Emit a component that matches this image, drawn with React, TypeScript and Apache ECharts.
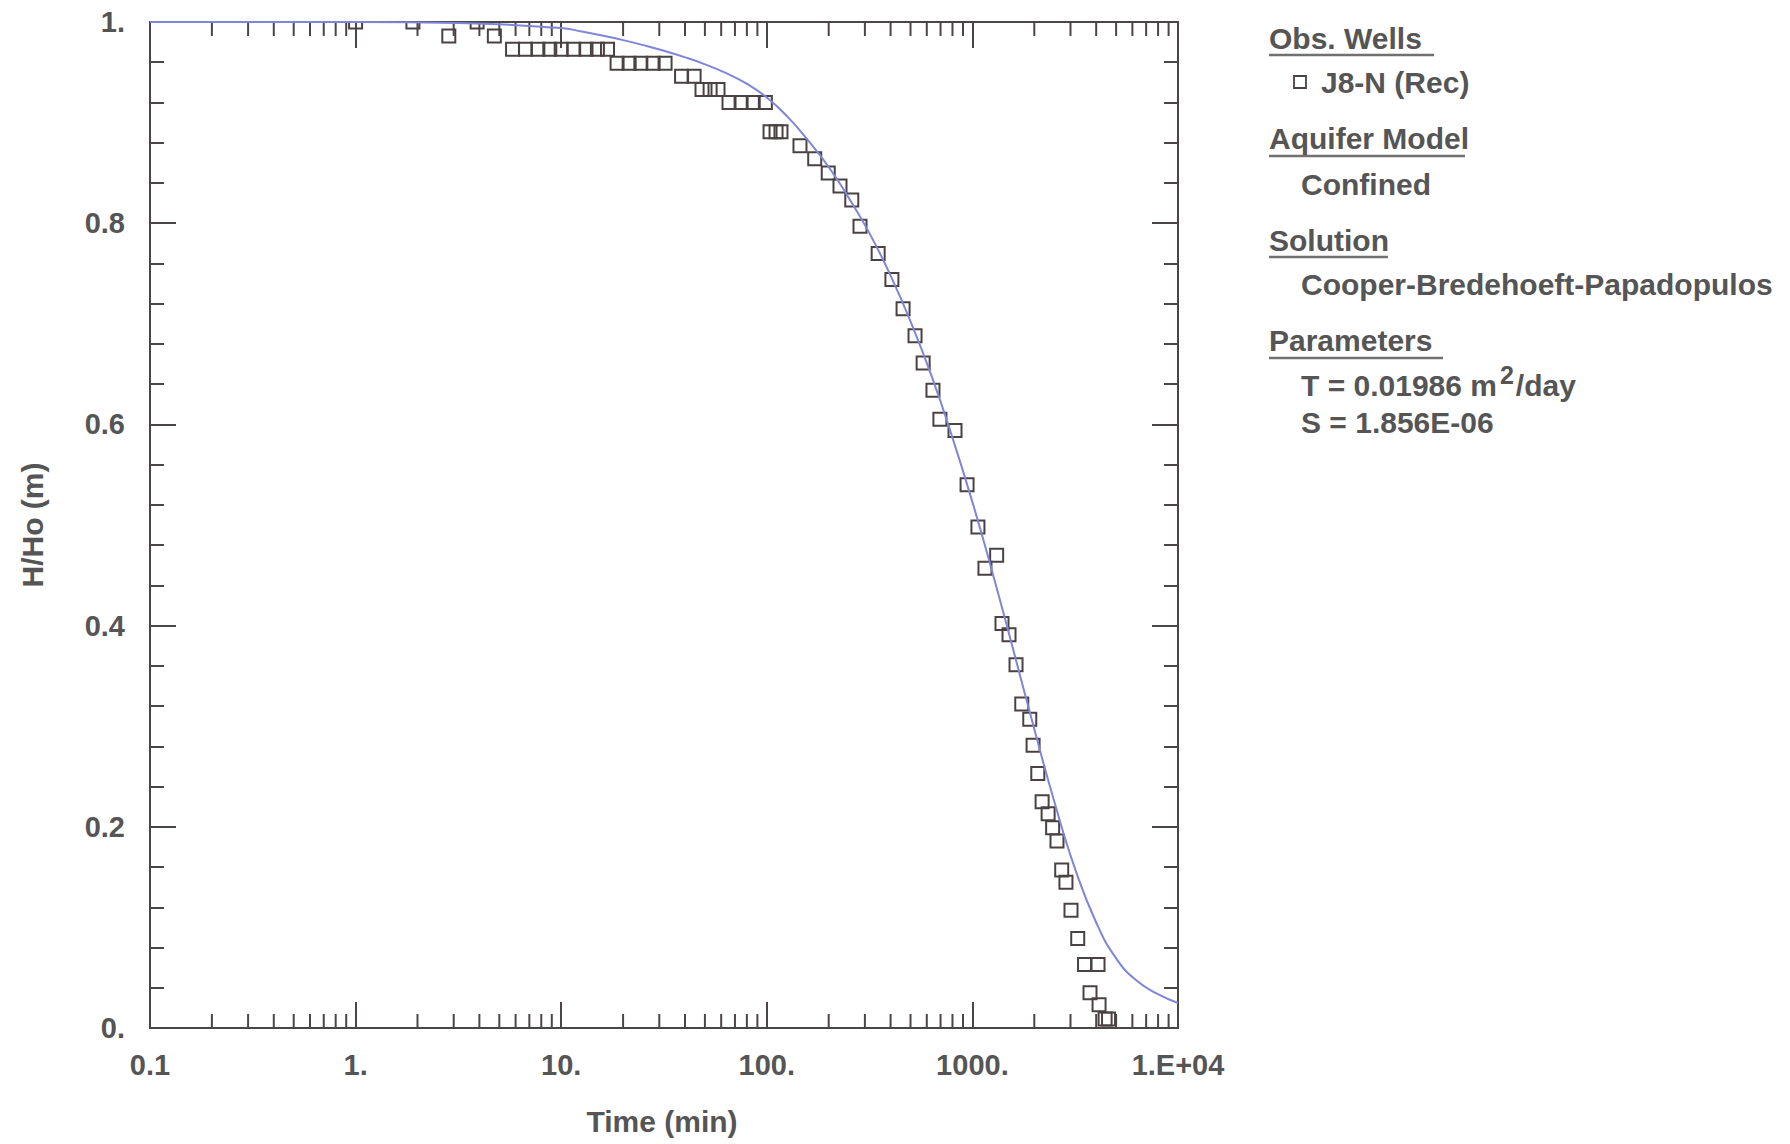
import React, { useEffect, useRef } from 'react';
import * as echarts from 'echarts';

// ---- Axis ticks / labels ----
const xTickValues = [0.1, 1, 10, 100, 1000, 10000];
const xTickLabels = ['0.1', '1.', '10.', '100.', '1000.', '1.E+04'];
const xMinorTickValues = [
  0.2, 0.3, 0.4, 0.5, 0.6, 0.7, 0.8, 0.9,
  2, 3, 4, 5, 6, 7, 8, 9,
  20, 30, 40, 50, 60, 70, 80, 90,
  200, 300, 400, 500, 600, 700, 800, 900,
  2000, 3000, 4000, 5000, 6000, 7000, 8000, 9000,
];
const yTickValues = [0, 0.2, 0.4, 0.6, 0.8, 1];
const yTickLabels = ['0.', '0.2', '0.4', '0.6', '0.8', '1.'];

// ---- Observed data: J8-N (Rec) ----
const obsTime = [
  1.0, 1.9, 2.84, 3.9, 4.73,
  5.8, 6.7, 7.7, 8.8, 10.0, 11.5, 13.2, 15.0, 16.8,
  18.7, 21.4, 24.4, 28.0, 32.0,
  38.5, 44.3,
  48.4, 53.0, 57.9,
  65.5, 75.0, 85.9, 98.4,
  103.7, 110.9, 117.2,
  145, 171, 199, 227, 259, 284, 348, 406, 460, 526, 576, 643, 695, 823,
  942, 1064, 1151, 1312, 1393, 1507, 1630, 1738, 1901, 1973, 2080, 2183, 2335,
  2456, 2579, 2719, 2851, 3017, 3253, 3511, 3733, 4083, 4131, 4420, 4594,
];
const obsHead = [
  1.0, 1.0, 0.986, 1.0, 0.986,
  0.973, 0.973, 0.973, 0.973, 0.973, 0.973, 0.973, 0.973, 0.973,
  0.959, 0.959, 0.959, 0.959, 0.959,
  0.946, 0.946,
  0.933, 0.933, 0.933,
  0.92, 0.92, 0.92, 0.92,
  0.891, 0.891, 0.891,
  0.877, 0.864, 0.85, 0.837, 0.823, 0.797, 0.77, 0.744, 0.715, 0.688, 0.661, 0.634, 0.605, 0.594,
  0.54, 0.498, 0.457, 0.47, 0.402, 0.391, 0.361, 0.322, 0.307, 0.281, 0.253, 0.225, 0.213,
  0.199, 0.186, 0.157, 0.145, 0.117, 0.089, 0.063, 0.035, 0.063, 0.023, 0.009, 0.009,
];

// ---- Fitted type curve (Cooper-Bredehoeft-Papadopulos) ----
const curveTime = [
  0.1, 1, 3.16, 10, 12.6, 15.8, 20, 25.1, 31.6, 39.8, 50.1, 63.1, 79.4,
  100, 126, 158, 200, 251, 316, 398, 501, 631, 794,
  1000, 1259, 1585, 1995, 2512, 3162, 3981, 5012, 6310, 7943, 10000,
];
const curveHead = [
  1.0, 1.0, 0.999, 0.994, 0.9905, 0.9865, 0.982, 0.977, 0.9714, 0.9651, 0.9579, 0.9494, 0.9389,
  0.9249, 0.9059, 0.8829, 0.8559, 0.8249, 0.7899, 0.7489, 0.7019, 0.6489, 0.5889,
  0.5229, 0.4509, 0.3749, 0.2979, 0.2239, 0.1579, 0.1059, 0.0689, 0.0469, 0.0339, 0.0249,
];

// ---- Legend texts ----
const legendHeadings = ['Obs. Wells', 'Aquifer Model', 'Solution', 'Parameters'];
const wellName = 'J8-N (Rec)';
const aquiferModel = 'Confined';
const solutionName = 'Cooper-Bredehoeft-Papadopulos';
const paramT = '0.01986';
const paramS = '1.856E-06';

const FONT_FAMILY = '"Liberation Sans", Arial, Helvetica, sans-serif';
const AXIS_COLOR = '#4b4545';
const TEXT_COLOR = '#555555';
const MARK_COLOR = '#4a4242';
const CURVE_COLOR = '#7f85d8';
const LINE_COLOR = '#707070';

function App() {
  const ref = useRef<HTMLDivElement>(null);

  useEffect(() => {
    if (!ref.current) return;
    const chart = echarts.init(ref.current, null, { renderer: 'svg' });

    const xFormatter = (v: number) => {
      const i = xTickValues.findIndex((t) => Math.abs(Math.log10(t) - Math.log10(v)) < 1e-6);
      return i >= 0 ? xTickLabels[i] : '';
    };
    const yFormatter = (v: number) => {
      const i = yTickValues.findIndex((t) => Math.abs(t - v) < 1e-6);
      return i >= 0 ? yTickLabels[i] : '';
    };

    const lineStyle = { color: AXIS_COLOR, width: 2 };
    const labelStyle = {
      color: TEXT_COLOR,
      fontSize: 29,
      fontWeight: 'bold' as const,
      fontFamily: FONT_FAMILY,
    };

    const makeX = (position: 'bottom' | 'top', showLabel: boolean) => ({
      type: 'log',
      logBase: 10,
      min: 0.1,
      max: 10000,
      position,
      splitNumber: 5,
      axisLine: { show: true, onZero: false, lineStyle },
      axisTick: { show: true, inside: true, length: 26, lineStyle },
      minorTick: { show: false },
      splitLine: { show: false },
      axisLabel: {
        show: showLabel,
        margin: 22,
        formatter: xFormatter,
        ...labelStyle,
      },
    });
    const makeY = (position: 'left' | 'right', showLabel: boolean) => ({
      type: 'value',
      min: 0,
      max: 1,
      interval: 0.2,
      position,
      axisLine: { show: true, onZero: false, lineStyle },
      axisTick: { show: true, inside: true, length: 26, lineStyle },
      minorTick: { show: true, splitNumber: 5, length: 14, lineStyle },
      splitLine: { show: false },
      minorSplitLine: { show: false },
      axisLabel: {
        show: showLabel,
        margin: 25,
        formatter: yFormatter,
        ...labelStyle,
      },
    });

    const font30 = `bold 30px ${FONT_FAMILY}`;
    const legendX = 1269;
    const subX = 1301;
    const txt = (text: string, x: number, y: number) => ({
      type: 'text',
      x,
      y,
      silent: true,
      style: { text, fill: TEXT_COLOR, font: font30, align: 'left', verticalAlign: 'middle' },
    });
    const uline = (x1: number, x2: number, y: number) => ({
      type: 'line',
      silent: true,
      shape: { x1, y1: y, x2, y2: y },
      style: { stroke: LINE_COLOR, lineWidth: 2.5 },
    });

    const option: any = {
      animation: false,
      backgroundColor: '#ffffff',
      grid: {
        left: 150,
        top: 22,
        width: 1028,
        height: 1006,
        containLabel: false,
        outerBoundsMode: 'none',
      },
      xAxis: [makeX('bottom', true), makeX('top', false)],
      yAxis: [makeY('left', true), makeY('right', false)],
      series: [
        {
          name: 'minorTicks',
          type: 'custom',
          xAxisIndex: 0,
          yAxisIndex: 0,
          silent: true,
          clip: false,
          z: 1,
          data: xMinorTickValues.map((v) => [v, 0.5]),
          encode: { x: 0, y: 1 },
          renderItem: (params: any, api: any) => {
            const x = api.coord([api.value(0), 0.5])[0];
            const cs = params.coordSys;
            const bottom = cs.y + cs.height;
            const style = { stroke: AXIS_COLOR, lineWidth: 2 };
            return {
              type: 'group',
              children: [
                { type: 'line', shape: { x1: x, y1: bottom, x2: x, y2: bottom - 14 }, style },
                { type: 'line', shape: { x1: x, y1: cs.y, x2: x, y2: cs.y + 14 }, style },
              ],
            };
          },
        },
        {
          name: wellName,
          type: 'custom',
          xAxisIndex: 0,
          yAxisIndex: 0,
          clip: true,
          z: 3,
          data: obsTime.map((t, i) => [t, obsHead[i]]),
          encode: { x: 0, y: 1 },
          renderItem: (params: any, api: any) => {
            const p = api.coord([api.value(0), api.value(1)]);
            const s = 13;
            return {
              type: 'rect',
              shape: { x: p[0] - s / 2, y: p[1] - s / 2, width: s, height: s },
              style: { fill: 'none', stroke: MARK_COLOR, lineWidth: 2 },
            };
          },
        },
        {
          name: 'Type curve',
          type: 'line',
          xAxisIndex: 0,
          yAxisIndex: 0,
          z: 4,
          showSymbol: false,
          symbol: 'none',
          smooth: 0.5,
          lineStyle: { color: CURVE_COLOR, width: 2 },
          data: curveTime.map((t, i) => [t, curveHead[i]]),
        },
      ],
      graphic: [
        {
          type: 'text',
          x: 32,
          y: 525,
          rotation: Math.PI / 2,
          silent: true,
          style: { text: 'H/Ho (m)', fill: TEXT_COLOR, font: font30, align: 'center', verticalAlign: 'middle' },
        },
        {
          type: 'text',
          x: 662,
          y: 1121,
          silent: true,
          style: { text: 'Time (min)', fill: TEXT_COLOR, font: font30, align: 'center', verticalAlign: 'middle' },
        },
        txt(legendHeadings[0], legendX, 38),
        uline(legendX, 1434, 55),
        {
          type: 'rect',
          silent: true,
          shape: { x: 1294, y: 76, width: 12, height: 12 },
          style: { fill: 'none', stroke: MARK_COLOR, lineWidth: 1.8 },
        },
        txt(wellName, 1321, 82),
        txt(legendHeadings[1], legendX, 138),
        uline(legendX, 1465, 156),
        txt(aquiferModel, subX, 184),
        txt(legendHeadings[2], legendX, 240),
        uline(legendX, 1388, 257),
        txt(solutionName, subX, 284),
        txt(legendHeadings[3], legendX, 340),
        uline(legendX, 1443, 358),
        {
          type: 'text',
          x: subX,
          y: 381,
          silent: true,
          style: {
            text: `{a|T = ${paramT} m}{s|2}{a|/day}`,
            align: 'left',
            verticalAlign: 'middle',
            rich: {
              a: { fill: TEXT_COLOR, fontSize: 30, fontWeight: 'bold', fontFamily: FONT_FAMILY, lineHeight: 38, verticalAlign: 'bottom' },
              s: { fill: TEXT_COLOR, fontSize: 25, fontWeight: 'bold', fontFamily: FONT_FAMILY, lineHeight: 20, verticalAlign: 'top', padding: [0, 2, 0, 3] },
            },
          },
        },
        txt(`S = ${paramS}`, subX, 422),
      ],
    };

    chart.setOption(option);
    return () => {
      chart.dispose();
    };
  }, []);

  return (
    <div
      ref={ref}
      style={{ position: 'fixed', left: 0, top: 0, width: 1790, height: 1144, background: '#fff' }}
    />
  );
}

export default App;
